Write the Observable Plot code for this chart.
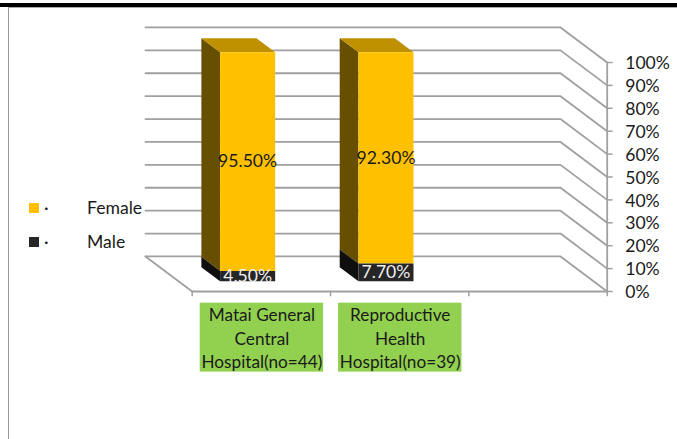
<!DOCTYPE html>
<html>
<head>
<meta charset="utf-8">
<script src="https://cdn.jsdelivr.net/npm/d3@7"></script>
<script src="https://cdn.jsdelivr.net/npm/@observablehq/plot@0.6"></script>
<style>
  html, body { margin: 0; padding: 0; background: #fff; }
  #page { position: relative; width: 677px; height: 439px; overflow: hidden; font-family: Lato, sans-serif; }
  #rule-top { position: absolute; left: 0; right: 0; top: 3px; height: 4px; background: #000; }
  #frame-top { position: absolute; left: 8px; right: 0; top: 7px; height: 1px; background: #aaa; }
  #frame-left { position: absolute; left: 8px; top: 7px; bottom: 0; width: 1px; background: #999; }
  #chart { position: absolute; left: 0; top: 0; }
  #chart svg { display: block; }
  .key { position: absolute; left: 29px; height: 24px; font-size: 17.6px; line-height: 24px; color: #1a1a1a; }
  .key i { position: absolute; left: 0; top: 7px; width: 10px; height: 10px; }
  .key b { position: absolute; left: 15px; top: 0; font-weight: 400; }
  .key span { position: absolute; left: 58px; top: 0; }
</style>
</head>
<body>
<div id="page">
  <div id="chart"></div>
  <div id="rule-top"></div>
  <div id="frame-top"></div>
  <div id="frame-left"></div>
  <div class="key" style="top:196px"><i style="background:#FFC000"></i><b>·</b><span>Female</span></div>
  <div class="key" style="top:230px"><i style="background:#262626"></i><b>·</b><span>Male</span></div>
</div>
<script>
// Survey values: share of each sex per hospital, in percent
const hospitals = ["Matai General\nCentral\nHospital(no=44)", "Reproductive\nHealth\nHospital(no=39)"];
const female = [95.5, 92.3];
const male = [4.5, 7.7];
const femaleLabels = ["95.50%", "92.30%"];
const maleLabels = ["4.50%", "7.70%"];
const percentTicks = [0, 10, 20, 30, 40, 50, 60, 70, 80, 90, 100];
const slots = 3;

// Oblique projection: depth 0 is the front plane, depth 1 the back wall
const depthX = -0.3376;
const depthY = 15.3;
const at = (c, v, d = 0) => ({x: c + d * depthX, y: v + d * depthY});

const barHalf = 0.199;
const barFront = 0.294;
const barBack = 0.695;

const COLORS = {
  femaleFront: "#FFC000", femaleSide: "#665000", femaleTop: "#BF9000",
  maleFront: "#262626", maleSide: "#0F0F0F", wall: "#A0A0A0", tag: "#92D050"
};

// Back-wall gridlines, each folding forward along the right wall
const grid = percentTicks.flatMap(p => [at(0, p, 1), at(slots, p, 1), at(slots, p, 0)].map(q => ({...q, id: p})));
const floorEdge = [at(0, 0, 1), at(0, 0, 0), at(slots, 0, 0)];

// Bar faces as closed polygons
const face = (id, pts) => pts.map(q => ({...q, id}));
const frontFace = (c, lo, hi) => face(`f${c}${lo}`, [
  at(c - barHalf, lo, barFront), at(c + barHalf, lo, barFront),
  at(c + barHalf, hi, barFront), at(c - barHalf, hi, barFront)]);
const sideFace = (c, lo, hi) => face(`s${c}${lo}`, [
  at(c - barHalf, lo, barFront), at(c - barHalf, hi, barFront),
  at(c - barHalf, hi, barBack), at(c - barHalf, lo, barBack)]);
const topFace = (c, v) => face(`t${c}`, [
  at(c - barHalf, v, barFront), at(c + barHalf, v, barFront),
  at(c + barHalf, v, barBack), at(c - barHalf, v, barBack)]);

const centres = hospitals.map((_, i) => i + 0.5);
const femaleFronts = centres.flatMap((c, i) => frontFace(c, male[i], male[i] + female[i]));
const femaleSides = centres.flatMap((c, i) => sideFace(c, male[i], male[i] + female[i]));
const femaleTops = centres.flatMap((c, i) => topFace(c, male[i] + female[i]));
const maleFronts = centres.flatMap((c, i) => frontFace(c, 0, male[i]));
const maleSides = centres.flatMap((c, i) => sideFace(c, 0, male[i]));

const polygon = (data, fill) => Plot.line(data, {x: "x", y: "y", z: "id", fill, stroke: "none", curve: "linear"});
const font = {fontFamily: "Lato, sans-serif", fontSize: 17.6};

const chart = Plot.plot({
  width: 677,
  height: 439,
  marginLeft: 191.7,
  marginRight: 70.3,
  marginTop: 62,
  marginBottom: 148,
  x: {domain: [0, slots], axis: null},
  y: {domain: [0, 100], axis: null},
  style: {background: "transparent", overflow: "visible"},
  marks: [
    Plot.line(grid, {x: "x", y: "y", z: "id", stroke: COLORS.wall, strokeWidth: 1.8}),
    Plot.line(floorEdge, {x: "x", y: "y", stroke: COLORS.wall, strokeWidth: 1.8}),
    Plot.ruleX([slots], {y1: 0, y2: 100, stroke: COLORS.wall, strokeWidth: 1.8}),
    Plot.ruleX(d3.range(slots + 1), {y1: 0, y2: -2.3, stroke: COLORS.wall, strokeWidth: 1.5}),
    Plot.ruleY(percentTicks, {x1: slots, x2: slots + 0.043, stroke: COLORS.wall, strokeWidth: 1.5}),

    polygon(femaleSides, COLORS.femaleSide),
    polygon(femaleTops, COLORS.femaleTop),
    polygon(maleSides, COLORS.maleSide),
    polygon(femaleFronts, COLORS.femaleFront),
    polygon(maleFronts, COLORS.maleFront),

    Plot.text(femaleLabels, {
      x: (_, i) => at(centres[i], 0, barFront).x,
      y: (_, i) => at(0, male[i] + female[i] / 2, barFront).y,
      text: d => d, fill: "#1a1a1a", ...font
    }),
    Plot.text(maleLabels, {
      x: (_, i) => at(centres[i], 0, barFront).x,
      y: (_, i) => at(0, male[i] / 2, barFront).y,
      text: d => d, fill: "#eeeeee", ...font
    }),

    // Category names on green tags under the floor
    Plot.rect(hospitals, {
      x1: (_, i) => centres[i] - 0.442,
      x2: (_, i) => centres[i] + 0.45,
      y1: -5.1,
      y2: -35.2,
      fill: COLORS.tag
    }),
    Plot.text(hospitals, {
      x: (_, i) => centres[i] + 0.004,
      y: -19.9,
      text: d => d,
      lineHeight: 1.37,
      fill: "#1a1a1a",
      fontFamily: "Lato, sans-serif",
      fontSize: 17.2
    }),

    Plot.axisY(percentTicks, {
      anchor: "right",
      tickSize: 0,
      tickPadding: 18,
      dy: 1,
      tickFormat: d => `${d}%`,
      fill: "#1a1a1a",
      label: null,
      ...font
    })
  ]
});
document.getElementById("chart").append(chart);
</script>
</body>
</html>
